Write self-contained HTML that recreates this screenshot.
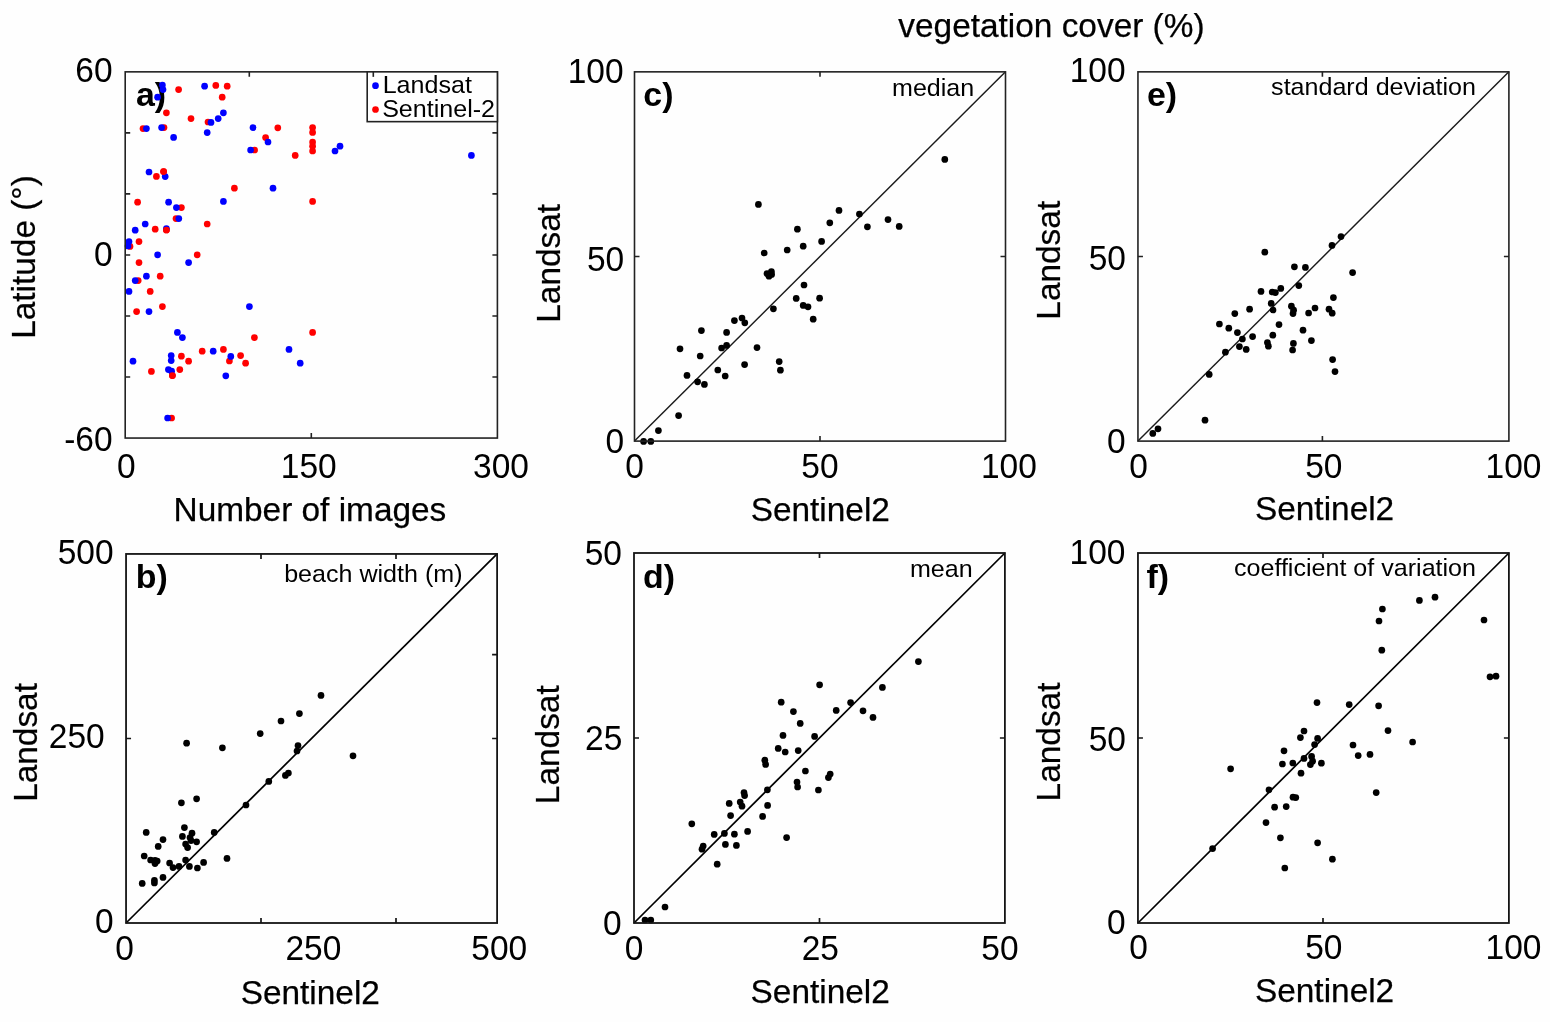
<!DOCTYPE html>
<html lang="en">
<head>
<meta charset="utf-8">
<title>Landsat vs Sentinel-2 comparison</title>
<style>
html,body{margin:0;padding:0;background:#fefefe;}
body{width:1550px;height:1022px;overflow:hidden;}
svg{display:block;}
svg text{font-family:"Liberation Sans",sans-serif;fill:#000;}
</style>
</head>
<body>
<svg width="1550" height="1022" viewBox="0 0 1550 1022">
<rect width="1550" height="1022" fill="#fefefe"/>
<text id="a_lab" transform="translate(135.88 106.00)" font-size="33.9" text-anchor="start" font-weight="bold">a)</text>
<g fill="#ff0000"><circle cx="178.6" cy="89.6" r="3.35"/><circle cx="215.8" cy="85.4" r="3.35"/><circle cx="227.2" cy="86.2" r="3.35"/><circle cx="222.2" cy="97.2" r="3.35"/><circle cx="166.4" cy="112.8" r="3.35"/><circle cx="191.0" cy="118.6" r="3.35"/><circle cx="208.0" cy="122.0" r="3.35"/><circle cx="143.0" cy="128.6" r="3.35"/><circle cx="164.0" cy="127.6" r="3.35"/><circle cx="277.8" cy="127.8" r="3.35"/><circle cx="265.6" cy="137.6" r="3.35"/><circle cx="312.6" cy="127.6" r="3.35"/><circle cx="312.6" cy="132.4" r="3.35"/><circle cx="312.6" cy="142.0" r="3.35"/><circle cx="312.6" cy="146.2" r="3.35"/><circle cx="312.6" cy="151.0" r="3.35"/><circle cx="254.6" cy="150.0" r="3.35"/><circle cx="295.2" cy="155.4" r="3.35"/><circle cx="163.6" cy="171.6" r="3.35"/><circle cx="156.4" cy="176.4" r="3.35"/><circle cx="234.4" cy="188.2" r="3.35"/><circle cx="312.6" cy="201.4" r="3.35"/><circle cx="137.6" cy="202.2" r="3.35"/><circle cx="181.4" cy="207.6" r="3.35"/><circle cx="176.0" cy="218.6" r="3.35"/><circle cx="207.2" cy="224.0" r="3.35"/><circle cx="155.2" cy="229.2" r="3.35"/><circle cx="166.4" cy="230.0" r="3.35"/><circle cx="139.0" cy="241.6" r="3.35"/><circle cx="130.0" cy="246.4" r="3.35"/><circle cx="197.2" cy="254.8" r="3.35"/><circle cx="139.0" cy="262.6" r="3.35"/><circle cx="160.2" cy="276.2" r="3.35"/><circle cx="138.2" cy="280.6" r="3.35"/><circle cx="150.2" cy="291.4" r="3.35"/><circle cx="162.4" cy="306.6" r="3.35"/><circle cx="136.6" cy="311.6" r="3.35"/><circle cx="312.6" cy="332.4" r="3.35"/><circle cx="254.4" cy="337.6" r="3.35"/><circle cx="202.2" cy="351.2" r="3.35"/><circle cx="223.4" cy="349.4" r="3.35"/><circle cx="240.6" cy="355.6" r="3.35"/><circle cx="181.4" cy="356.2" r="3.35"/><circle cx="188.6" cy="361.2" r="3.35"/><circle cx="229.4" cy="361.0" r="3.35"/><circle cx="245.6" cy="363.2" r="3.35"/><circle cx="179.8" cy="369.6" r="3.35"/><circle cx="151.4" cy="371.4" r="3.35"/><circle cx="172.4" cy="375.6" r="3.35"/><circle cx="171.6" cy="418.0" r="3.35"/></g>
<g fill="#0000ff"><circle cx="162.4" cy="85.0" r="3.35"/><circle cx="163.0" cy="89.6" r="3.35"/><circle cx="157.6" cy="97.2" r="3.35"/><circle cx="204.6" cy="86.2" r="3.35"/><circle cx="223.4" cy="112.8" r="3.35"/><circle cx="218.2" cy="118.6" r="3.35"/><circle cx="211.0" cy="122.4" r="3.35"/><circle cx="207.2" cy="132.6" r="3.35"/><circle cx="146.4" cy="128.6" r="3.35"/><circle cx="161.6" cy="127.6" r="3.35"/><circle cx="173.6" cy="137.4" r="3.35"/><circle cx="253.0" cy="127.6" r="3.35"/><circle cx="268.0" cy="142.0" r="3.35"/><circle cx="250.6" cy="150.0" r="3.35"/><circle cx="340.0" cy="146.2" r="3.35"/><circle cx="335.0" cy="151.0" r="3.35"/><circle cx="149.0" cy="172.0" r="3.35"/><circle cx="165.2" cy="176.6" r="3.35"/><circle cx="273.0" cy="188.2" r="3.35"/><circle cx="223.4" cy="201.4" r="3.35"/><circle cx="168.6" cy="202.2" r="3.35"/><circle cx="176.4" cy="207.6" r="3.35"/><circle cx="178.8" cy="218.6" r="3.35"/><circle cx="145.2" cy="224.0" r="3.35"/><circle cx="135.2" cy="230.2" r="3.35"/><circle cx="166.4" cy="228.6" r="3.35"/><circle cx="129.0" cy="241.6" r="3.35"/><circle cx="128.0" cy="246.0" r="3.35"/><circle cx="157.6" cy="254.8" r="3.35"/><circle cx="188.6" cy="262.6" r="3.35"/><circle cx="146.4" cy="276.2" r="3.35"/><circle cx="135.2" cy="280.6" r="3.35"/><circle cx="129.0" cy="291.4" r="3.35"/><circle cx="249.4" cy="306.6" r="3.35"/><circle cx="149.0" cy="311.6" r="3.35"/><circle cx="177.4" cy="332.4" r="3.35"/><circle cx="182.4" cy="337.6" r="3.35"/><circle cx="213.2" cy="351.2" r="3.35"/><circle cx="289.0" cy="349.4" r="3.35"/><circle cx="230.8" cy="356.4" r="3.35"/><circle cx="171.2" cy="355.6" r="3.35"/><circle cx="171.2" cy="360.6" r="3.35"/><circle cx="133.0" cy="361.2" r="3.35"/><circle cx="300.2" cy="363.2" r="3.35"/><circle cx="168.4" cy="369.6" r="3.35"/><circle cx="171.6" cy="371.2" r="3.35"/><circle cx="225.8" cy="375.8" r="3.35"/><circle cx="167.6" cy="418.0" r="3.35"/><circle cx="471.4" cy="155.4" r="3.35"/></g>
<g fill="#ff0000"><circle cx="163.6" cy="171.6" r="3.35"/><circle cx="166.4" cy="230.0" r="3.35"/><circle cx="172.4" cy="375.6" r="3.35"/></g>
<rect x="125.2" y="71.85" width="372.20" height="366.20" fill="none" stroke="#222222" stroke-width="1.6"/>
<path d="M249.3 71.85v5.0M373.3 71.85v5.0M311.3 438.05v-5.0M125.2 132.88h5.0M125.2 193.92h5.0M125.2 254.95h5.0M125.2 315.98h5.0M125.2 377.02h5.0M497.4 132.88h-5.0M497.4 193.92h-5.0M497.4 254.95h-5.0M497.4 315.98h-5.0M497.4 377.02h-5.0" fill="none" stroke="#222222" stroke-width="1.6"/>
<rect x="367.2" y="71.85" width="130.20" height="49.80" fill="#fefefe" stroke="#222222" stroke-width="1.6"/>
<path d="M373.3 71.85v5.0" stroke="#222222" stroke-width="1.6"/>
<g fill="#0000ff"><circle cx="375.5" cy="85.7" r="3.35"/></g>
<g fill="#ff0000"><circle cx="375.5" cy="109.5" r="3.35"/></g>
<line x1="126.05" y1="923.0" x2="497.1" y2="553.95" stroke="#000000" stroke-width="1.7"/>
<g fill="#000"><circle cx="321.0" cy="695.4" r="3.35"/><circle cx="299.4" cy="713.6" r="3.35"/><circle cx="281.0" cy="721.0" r="3.35"/><circle cx="260.2" cy="733.6" r="3.35"/><circle cx="186.6" cy="743.2" r="3.35"/><circle cx="222.4" cy="747.8" r="3.35"/><circle cx="298.0" cy="745.6" r="3.35"/><circle cx="297.0" cy="751.0" r="3.35"/><circle cx="353.0" cy="755.8" r="3.35"/><circle cx="288.4" cy="773.0" r="3.35"/><circle cx="285.4" cy="775.4" r="3.35"/><circle cx="268.8" cy="781.4" r="3.35"/><circle cx="196.6" cy="798.8" r="3.35"/><circle cx="181.4" cy="802.8" r="3.35"/><circle cx="246.0" cy="805.0" r="3.35"/><circle cx="184.4" cy="827.6" r="3.35"/><circle cx="146.2" cy="832.4" r="3.35"/><circle cx="192.0" cy="833.2" r="3.35"/><circle cx="214.2" cy="832.4" r="3.35"/><circle cx="182.4" cy="836.4" r="3.35"/><circle cx="190.0" cy="837.6" r="3.35"/><circle cx="163.0" cy="839.6" r="3.35"/><circle cx="191.0" cy="840.6" r="3.35"/><circle cx="196.6" cy="841.8" r="3.35"/><circle cx="185.6" cy="844.0" r="3.35"/><circle cx="158.2" cy="846.4" r="3.35"/><circle cx="187.6" cy="847.6" r="3.35"/><circle cx="144.2" cy="856.0" r="3.35"/><circle cx="150.6" cy="860.0" r="3.35"/><circle cx="155.0" cy="860.4" r="3.35"/><circle cx="157.2" cy="861.0" r="3.35"/><circle cx="227.0" cy="858.4" r="3.35"/><circle cx="185.6" cy="860.0" r="3.35"/><circle cx="155.0" cy="863.6" r="3.35"/><circle cx="169.6" cy="863.0" r="3.35"/><circle cx="203.6" cy="862.4" r="3.35"/><circle cx="179.0" cy="866.4" r="3.35"/><circle cx="173.0" cy="867.6" r="3.35"/><circle cx="189.4" cy="866.4" r="3.35"/><circle cx="197.4" cy="868.0" r="3.35"/><circle cx="163.0" cy="877.4" r="3.35"/><circle cx="154.4" cy="880.4" r="3.35"/><circle cx="154.4" cy="883.0" r="3.35"/><circle cx="142.2" cy="883.4" r="3.35"/></g>
<rect x="126.05" y="553.95" width="371.05" height="369.05" fill="none" stroke="#141414" stroke-width="1.8"/>
<path d="M261 553.95v5.0M396 553.95v5.0M261 923.0v-5.0M396 923.0v-5.0M126.05 738.5h5.0M497.1 654.6h-5.0M497.1 738.5h-5.0" fill="none" stroke="#141414" stroke-width="1.7"/>
<line x1="634.5" y1="441.1" x2="1005.5" y2="71.85" stroke="#1a1a1a" stroke-width="1.45"/>
<g fill="#000"><circle cx="758.4" cy="204.4" r="3.35"/><circle cx="839.0" cy="210.4" r="3.35"/><circle cx="859.4" cy="214.0" r="3.35"/><circle cx="829.8" cy="222.8" r="3.35"/><circle cx="888.0" cy="219.6" r="3.35"/><circle cx="867.4" cy="226.8" r="3.35"/><circle cx="899.2" cy="226.4" r="3.35"/><circle cx="797.4" cy="229.2" r="3.35"/><circle cx="821.6" cy="241.4" r="3.35"/><circle cx="803.2" cy="246.2" r="3.35"/><circle cx="787.2" cy="250.0" r="3.35"/><circle cx="764.2" cy="253.0" r="3.35"/><circle cx="767.0" cy="273.6" r="3.35"/><circle cx="771.4" cy="271.6" r="3.35"/><circle cx="771.6" cy="274.4" r="3.35"/><circle cx="769.0" cy="276.2" r="3.35"/><circle cx="804.0" cy="285.0" r="3.35"/><circle cx="796.2" cy="298.4" r="3.35"/><circle cx="819.6" cy="298.2" r="3.35"/><circle cx="803.2" cy="305.4" r="3.35"/><circle cx="808.0" cy="306.8" r="3.35"/><circle cx="773.4" cy="308.8" r="3.35"/><circle cx="813.2" cy="319.2" r="3.35"/><circle cx="742.0" cy="318.0" r="3.35"/><circle cx="734.4" cy="320.6" r="3.35"/><circle cx="744.8" cy="322.8" r="3.35"/><circle cx="701.4" cy="330.6" r="3.35"/><circle cx="726.6" cy="332.4" r="3.35"/><circle cx="726.6" cy="345.4" r="3.35"/><circle cx="721.6" cy="348.0" r="3.35"/><circle cx="757.0" cy="347.6" r="3.35"/><circle cx="680.0" cy="348.8" r="3.35"/><circle cx="700.2" cy="356.0" r="3.35"/><circle cx="779.2" cy="361.6" r="3.35"/><circle cx="744.6" cy="364.6" r="3.35"/><circle cx="780.4" cy="370.2" r="3.35"/><circle cx="717.8" cy="370.0" r="3.35"/><circle cx="725.2" cy="376.0" r="3.35"/><circle cx="687.0" cy="375.4" r="3.35"/><circle cx="697.6" cy="381.8" r="3.35"/><circle cx="704.4" cy="384.4" r="3.35"/><circle cx="678.6" cy="415.6" r="3.35"/><circle cx="658.4" cy="430.6" r="3.35"/><circle cx="643.6" cy="441.4" r="3.35"/><circle cx="650.8" cy="441.4" r="3.35"/><circle cx="944.8" cy="159.4" r="3.35"/></g>
<rect x="634.5" y="71.85" width="371.00" height="369.25" fill="none" stroke="#222222" stroke-width="1.6"/>
<path d="M820.0 71.85v5.0M820.0 441.1v-5.0M634.5 256.5h5.0M1005.5 256.5h-5.0" fill="none" stroke="#222222" stroke-width="1.6"/>
<line x1="634.0" y1="923.0" x2="1004.9" y2="553.0" stroke="#000000" stroke-width="1.7"/>
<g fill="#000"><circle cx="918.4" cy="661.6" r="3.35"/><circle cx="819.6" cy="684.8" r="3.35"/><circle cx="882.4" cy="687.4" r="3.35"/><circle cx="781.2" cy="702.2" r="3.35"/><circle cx="850.6" cy="702.6" r="3.35"/><circle cx="793.4" cy="711.6" r="3.35"/><circle cx="836.2" cy="710.4" r="3.35"/><circle cx="863.0" cy="710.8" r="3.35"/><circle cx="873.0" cy="717.4" r="3.35"/><circle cx="800.2" cy="723.4" r="3.35"/><circle cx="783.0" cy="735.4" r="3.35"/><circle cx="814.6" cy="736.4" r="3.35"/><circle cx="778.2" cy="748.4" r="3.35"/><circle cx="785.2" cy="752.0" r="3.35"/><circle cx="798.2" cy="750.6" r="3.35"/><circle cx="764.8" cy="760.2" r="3.35"/><circle cx="765.6" cy="764.4" r="3.35"/><circle cx="805.4" cy="771.0" r="3.35"/><circle cx="830.2" cy="774.0" r="3.35"/><circle cx="828.4" cy="777.6" r="3.35"/><circle cx="797.0" cy="782.0" r="3.35"/><circle cx="797.6" cy="787.0" r="3.35"/><circle cx="818.4" cy="790.0" r="3.35"/><circle cx="767.4" cy="789.8" r="3.35"/><circle cx="744.0" cy="792.6" r="3.35"/><circle cx="744.6" cy="795.6" r="3.35"/><circle cx="729.2" cy="803.4" r="3.35"/><circle cx="740.2" cy="802.0" r="3.35"/><circle cx="742.0" cy="806.2" r="3.35"/><circle cx="767.6" cy="805.4" r="3.35"/><circle cx="730.6" cy="815.6" r="3.35"/><circle cx="762.6" cy="816.4" r="3.35"/><circle cx="691.8" cy="823.8" r="3.35"/><circle cx="747.6" cy="831.4" r="3.35"/><circle cx="714.2" cy="834.4" r="3.35"/><circle cx="724.4" cy="833.4" r="3.35"/><circle cx="734.4" cy="834.2" r="3.35"/><circle cx="786.6" cy="837.6" r="3.35"/><circle cx="725.4" cy="844.4" r="3.35"/><circle cx="736.4" cy="845.4" r="3.35"/><circle cx="703.2" cy="846.0" r="3.35"/><circle cx="702.0" cy="849.2" r="3.35"/><circle cx="717.2" cy="864.2" r="3.35"/><circle cx="665.0" cy="907.0" r="3.35"/><circle cx="645.0" cy="920.0" r="3.35"/><circle cx="650.8" cy="920.0" r="3.35"/></g>
<rect x="634.0" y="553.0" width="370.90" height="370.00" fill="none" stroke="#141414" stroke-width="1.8"/>
<path d="M819.5 553.0v5.0M819.5 923.0v-5.0M634.0 738.0h5.0M1004.9 738.0h-5.0" fill="none" stroke="#141414" stroke-width="1.7"/>
<line x1="1137.95" y1="441.1" x2="1508.9" y2="71.85" stroke="#1a1a1a" stroke-width="1.45"/>
<g fill="#000"><circle cx="1341.0" cy="236.6" r="3.35"/><circle cx="1332.0" cy="245.4" r="3.35"/><circle cx="1264.8" cy="252.2" r="3.35"/><circle cx="1294.4" cy="266.8" r="3.35"/><circle cx="1305.4" cy="267.4" r="3.35"/><circle cx="1352.6" cy="272.6" r="3.35"/><circle cx="1298.8" cy="285.6" r="3.35"/><circle cx="1280.8" cy="288.4" r="3.35"/><circle cx="1261.0" cy="291.4" r="3.35"/><circle cx="1272.2" cy="292.0" r="3.35"/><circle cx="1275.4" cy="292.6" r="3.35"/><circle cx="1333.4" cy="297.6" r="3.35"/><circle cx="1271.2" cy="303.4" r="3.35"/><circle cx="1291.4" cy="306.2" r="3.35"/><circle cx="1249.6" cy="309.2" r="3.35"/><circle cx="1315.0" cy="308.0" r="3.35"/><circle cx="1329.0" cy="309.2" r="3.35"/><circle cx="1273.0" cy="310.0" r="3.35"/><circle cx="1293.6" cy="310.2" r="3.35"/><circle cx="1332.2" cy="313.2" r="3.35"/><circle cx="1308.6" cy="313.0" r="3.35"/><circle cx="1293.0" cy="313.6" r="3.35"/><circle cx="1234.8" cy="313.6" r="3.35"/><circle cx="1219.4" cy="324.0" r="3.35"/><circle cx="1279.0" cy="324.6" r="3.35"/><circle cx="1228.8" cy="328.2" r="3.35"/><circle cx="1303.0" cy="330.2" r="3.35"/><circle cx="1237.4" cy="332.6" r="3.35"/><circle cx="1272.8" cy="335.2" r="3.35"/><circle cx="1252.6" cy="336.6" r="3.35"/><circle cx="1242.4" cy="339.0" r="3.35"/><circle cx="1311.4" cy="340.6" r="3.35"/><circle cx="1267.4" cy="342.6" r="3.35"/><circle cx="1293.4" cy="343.4" r="3.35"/><circle cx="1239.4" cy="346.6" r="3.35"/><circle cx="1268.4" cy="346.2" r="3.35"/><circle cx="1246.2" cy="349.4" r="3.35"/><circle cx="1292.6" cy="350.0" r="3.35"/><circle cx="1225.4" cy="352.2" r="3.35"/><circle cx="1332.6" cy="359.6" r="3.35"/><circle cx="1335.0" cy="371.6" r="3.35"/><circle cx="1209.2" cy="374.4" r="3.35"/><circle cx="1205.0" cy="420.2" r="3.35"/><circle cx="1158.0" cy="428.8" r="3.35"/><circle cx="1152.8" cy="433.4" r="3.35"/></g>
<rect x="1137.95" y="71.85" width="370.95" height="369.25" fill="none" stroke="#222222" stroke-width="1.6"/>
<path d="M1322.4 71.85v5.0M1322.4 441.1v-5.0M1137.95 256.5h5.0M1508.9 256.5h-5.0" fill="none" stroke="#222222" stroke-width="1.6"/>
<line x1="1137.95" y1="923.0" x2="1508.9" y2="553.0" stroke="#000000" stroke-width="1.7"/>
<g fill="#000"><circle cx="1435.0" cy="597.2" r="3.35"/><circle cx="1419.4" cy="600.4" r="3.35"/><circle cx="1382.4" cy="609.0" r="3.35"/><circle cx="1379.0" cy="621.0" r="3.35"/><circle cx="1381.8" cy="650.2" r="3.35"/><circle cx="1317.0" cy="702.6" r="3.35"/><circle cx="1349.2" cy="704.6" r="3.35"/><circle cx="1378.6" cy="705.8" r="3.35"/><circle cx="1304.0" cy="731.0" r="3.35"/><circle cx="1388.0" cy="730.6" r="3.35"/><circle cx="1300.4" cy="737.6" r="3.35"/><circle cx="1317.6" cy="738.4" r="3.35"/><circle cx="1412.6" cy="742.0" r="3.35"/><circle cx="1314.6" cy="744.6" r="3.35"/><circle cx="1353.0" cy="745.0" r="3.35"/><circle cx="1284.0" cy="750.8" r="3.35"/><circle cx="1358.2" cy="755.6" r="3.35"/><circle cx="1370.0" cy="754.4" r="3.35"/><circle cx="1311.6" cy="756.4" r="3.35"/><circle cx="1304.0" cy="758.4" r="3.35"/><circle cx="1312.6" cy="761.2" r="3.35"/><circle cx="1292.8" cy="763.0" r="3.35"/><circle cx="1282.4" cy="764.0" r="3.35"/><circle cx="1321.4" cy="763.2" r="3.35"/><circle cx="1310.4" cy="764.6" r="3.35"/><circle cx="1230.6" cy="768.8" r="3.35"/><circle cx="1301.0" cy="773.2" r="3.35"/><circle cx="1269.0" cy="789.8" r="3.35"/><circle cx="1376.2" cy="792.6" r="3.35"/><circle cx="1293.0" cy="797.2" r="3.35"/><circle cx="1295.8" cy="797.6" r="3.35"/><circle cx="1274.6" cy="807.2" r="3.35"/><circle cx="1286.2" cy="806.6" r="3.35"/><circle cx="1266.0" cy="822.6" r="3.35"/><circle cx="1280.4" cy="837.8" r="3.35"/><circle cx="1317.6" cy="842.8" r="3.35"/><circle cx="1212.6" cy="848.6" r="3.35"/><circle cx="1332.4" cy="859.2" r="3.35"/><circle cx="1284.8" cy="868.0" r="3.35"/><circle cx="1484.0" cy="620.0" r="3.35"/><circle cx="1490.0" cy="676.8" r="3.35"/><circle cx="1496.0" cy="676.2" r="3.35"/></g>
<rect x="1137.95" y="553.0" width="370.95" height="370.00" fill="none" stroke="#141414" stroke-width="1.8"/>
<path d="M1323.0 553.0v5.0M1323.0 923.0v-5.0M1137.95 738.0h5.0M1508.9 738.0h-5.0" fill="none" stroke="#141414" stroke-width="1.7"/>
<text id="a_leg1" transform="translate(382.65 93.00) scale(1.02 1)" font-size="24.6" text-anchor="start">Landsat</text>
<text id="a_leg2" transform="translate(382.15 117.00) scale(1.02 1)" font-size="24.6" text-anchor="start">Sentinel-2</text>
<text id="a_y1" transform="translate(112.57 82.00) scale(0.974 1)" font-size="34.4" text-anchor="end">60</text>
<text id="a_y2" transform="translate(112.66 266.00) scale(0.974 1)" font-size="34.4" text-anchor="end">0</text>
<text id="a_y3" transform="translate(112.54 451.00) scale(0.974 1)" font-size="34.4" text-anchor="end">-60</text>
<text id="a_x1" transform="translate(126.22 478.00) scale(0.974 1)" font-size="34.4" text-anchor="middle">0</text>
<text id="a_x2" transform="translate(308.77 478.00) scale(0.974 1)" font-size="34.4" text-anchor="middle">150</text>
<text id="a_x3" transform="translate(500.98 478.00) scale(0.974 1)" font-size="34.4" text-anchor="middle">300</text>
<text id="a_xl" transform="translate(309.92 521.00)" font-size="33.4" text-anchor="middle" stroke="#000" stroke-width="0.25">Number of images</text>
<text id="a_yl" transform="translate(35.00 257.02) rotate(-90)" font-size="33.4" text-anchor="middle" stroke="#000" stroke-width="0.25">Latitude (°)</text>
<text id="b_lab" transform="translate(135.80 588.00)" font-size="33.9" text-anchor="start" font-weight="bold">b)</text>
<text id="b_ann" transform="translate(462.50 582.00) scale(1.02 1)" font-size="24.6" text-anchor="end">beach width (m)</text>
<text id="b_y1" transform="translate(113.57 564.00) scale(0.974 1)" font-size="34.4" text-anchor="end">500</text>
<text id="b_y2" transform="translate(104.64 748.00) scale(0.974 1)" font-size="34.4" text-anchor="end">250</text>
<text id="b_y3" transform="translate(113.72 933.00) scale(0.974 1)" font-size="34.4" text-anchor="end">0</text>
<text id="b_x1" transform="translate(124.46 960.00) scale(0.974 1)" font-size="34.4" text-anchor="middle">0</text>
<text id="b_x2" transform="translate(313.36 960.00) scale(0.974 1)" font-size="34.4" text-anchor="middle">250</text>
<text id="b_x3" transform="translate(499.31 960.00) scale(0.974 1)" font-size="34.4" text-anchor="middle">500</text>
<text id="b_xl" transform="translate(310.31 1004.00)" font-size="33.4" text-anchor="middle" stroke="#000" stroke-width="0.25">Sentinel2</text>
<text id="b_yl" transform="translate(37.00 742.45) rotate(-90)" font-size="33.4" text-anchor="middle" stroke="#000" stroke-width="0.25">Landsat</text>
<text id="c_lab" transform="translate(643.28 106.00)" font-size="33.9" text-anchor="start" font-weight="bold">c)</text>
<text id="c_ann" transform="translate(974.23 96.00) scale(1.02 1)" font-size="24.6" text-anchor="end">median</text>
<text id="c_y1" transform="translate(623.54 83.00) scale(0.974 1)" font-size="34.4" text-anchor="end">100</text>
<text id="c_y2" transform="translate(624.21 271.00) scale(0.974 1)" font-size="34.4" text-anchor="end">50</text>
<text id="c_y3" transform="translate(624.22 453.00) scale(0.974 1)" font-size="34.4" text-anchor="end">0</text>
<text id="c_x1" transform="translate(634.55 478.00) scale(0.974 1)" font-size="34.4" text-anchor="middle">0</text>
<text id="c_x2" transform="translate(819.88 478.00) scale(0.974 1)" font-size="34.4" text-anchor="middle">50</text>
<text id="c_x3" transform="translate(1008.88 478.00) scale(0.974 1)" font-size="34.4" text-anchor="middle">100</text>
<text id="c_xl" transform="translate(820.31 521.00)" font-size="33.4" text-anchor="middle" stroke="#000" stroke-width="0.25">Sentinel2</text>
<text id="c_yl" transform="translate(560.00 263.33) rotate(-90)" font-size="33.4" text-anchor="middle" stroke="#000" stroke-width="0.25">Landsat</text>
<text id="d_lab" transform="translate(643.10 588.00)" font-size="33.9" text-anchor="start" font-weight="bold">d)</text>
<text id="d_ann" transform="translate(972.62 577.00) scale(1.02 1)" font-size="24.6" text-anchor="end">mean</text>
<text id="d_y1" transform="translate(621.90 565.00) scale(0.974 1)" font-size="34.4" text-anchor="end">50</text>
<text id="d_y2" transform="translate(622.26 750.00) scale(0.974 1)" font-size="34.4" text-anchor="end">25</text>
<text id="d_y3" transform="translate(621.72 935.00) scale(0.974 1)" font-size="34.4" text-anchor="end">0</text>
<text id="d_x1" transform="translate(634.08 960.00) scale(0.974 1)" font-size="34.4" text-anchor="middle">0</text>
<text id="d_x2" transform="translate(820.30 960.00) scale(0.974 1)" font-size="34.4" text-anchor="middle">25</text>
<text id="d_x3" transform="translate(999.97 960.00) scale(0.974 1)" font-size="34.4" text-anchor="middle">50</text>
<text id="d_xl" transform="translate(820.17 1003.00)" font-size="33.4" text-anchor="middle" stroke="#000" stroke-width="0.25">Sentinel2</text>
<text id="d_yl" transform="translate(559.00 744.73) rotate(-90)" font-size="33.4" text-anchor="middle" stroke="#000" stroke-width="0.25">Landsat</text>
<text id="e_lab" transform="translate(1146.91 106.00)" font-size="33.9" text-anchor="start" font-weight="bold">e)</text>
<text id="e_ann" transform="translate(1476.00 95.00) scale(1.02 1)" font-size="24.6" text-anchor="end">standard deviation</text>
<text id="e_y1" transform="translate(1125.54 82.00) scale(0.974 1)" font-size="34.4" text-anchor="end">100</text>
<text id="e_y2" transform="translate(1125.90 270.00) scale(0.974 1)" font-size="34.4" text-anchor="end">50</text>
<text id="e_y3" transform="translate(1125.72 453.00) scale(0.974 1)" font-size="34.4" text-anchor="end">0</text>
<text id="e_x1" transform="translate(1138.61 478.00) scale(0.974 1)" font-size="34.4" text-anchor="middle">0</text>
<text id="e_x2" transform="translate(1323.85 478.00) scale(0.974 1)" font-size="34.4" text-anchor="middle">50</text>
<text id="e_x3" transform="translate(1513.54 478.00) scale(0.974 1)" font-size="34.4" text-anchor="middle">100</text>
<text id="e_xl" transform="translate(1324.58 520.00)" font-size="33.4" text-anchor="middle" stroke="#000" stroke-width="0.25">Sentinel2</text>
<text id="e_yl" transform="translate(1060.00 260.26) rotate(-90)" font-size="33.4" text-anchor="middle" stroke="#000" stroke-width="0.25">Landsat</text>
<text id="f_lab" transform="translate(1146.55 588.00)" font-size="33.9" text-anchor="start" font-weight="bold">f)</text>
<text id="f_ann" transform="translate(1476.00 576.00) scale(1.02 1)" font-size="24.6" text-anchor="end">coefficient of variation</text>
<text id="f_y1" transform="translate(1125.46 564.00) scale(0.974 1)" font-size="34.4" text-anchor="end">100</text>
<text id="f_y2" transform="translate(1125.90 751.00) scale(0.974 1)" font-size="34.4" text-anchor="end">50</text>
<text id="f_y3" transform="translate(1125.72 934.00) scale(0.974 1)" font-size="34.4" text-anchor="end">0</text>
<text id="f_x1" transform="translate(1138.61 959.00) scale(0.974 1)" font-size="34.4" text-anchor="middle">0</text>
<text id="f_x2" transform="translate(1323.85 959.00) scale(0.974 1)" font-size="34.4" text-anchor="middle">50</text>
<text id="f_x3" transform="translate(1513.54 959.00) scale(0.974 1)" font-size="34.4" text-anchor="middle">100</text>
<text id="f_xl" transform="translate(1324.58 1002.00)" font-size="33.4" text-anchor="middle" stroke="#000" stroke-width="0.25">Sentinel2</text>
<text id="f_yl" transform="translate(1060.00 741.97) rotate(-90)" font-size="33.4" text-anchor="middle" stroke="#000" stroke-width="0.25">Landsat</text>
<text id="title" transform="translate(1051.41 37.00)" font-size="33.4" text-anchor="middle" stroke="#000" stroke-width="0.25">vegetation cover (%)</text>
</svg>
</body>
</html>
